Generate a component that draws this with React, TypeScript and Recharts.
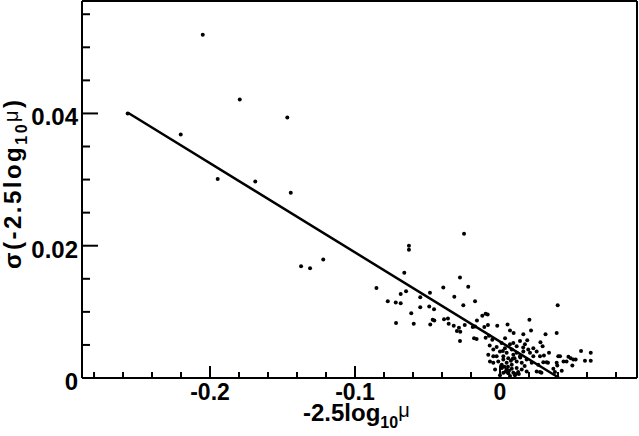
import { ScatterChart, Scatter, XAxis, YAxis, ReferenceLine } from "recharts";

// offsets (-2.5 log10 mu) and their scatter sigma
const magOffset = [
  -0.2568, -0.2050, -0.2202, -0.1795, -0.1467, -0.1947, -0.1688, -0.1443, -0.1372, -0.1310, -0.1219,
  -0.0248, -0.0628, -0.0628, -0.0660, -0.0276, -0.0852, -0.0391, -0.0219, -0.0648, -0.0685,
  -0.0483, -0.0550, -0.0315, -0.0774, -0.0719, -0.0685, -0.0172, -0.0550, -0.0488, -0.0455,
  -0.0253, -0.0612, -0.0085, -0.0122, -0.0099, -0.0464, -0.0453, -0.0386, -0.0359, -0.0159,
  -0.0717, -0.0595, -0.0481, -0.0354, -0.0319, -0.0283, -0.0297, -0.0274, -0.0243, -0.0188,
  -0.0108, -0.0083, -0.0276, -0.0179, -0.0161, -0.0172, -0.0019, 0.0052, 0.0203, 0.0398,
  0.0391, 0.0314, 0.0214, 0.0161, 0.0069, 0.0094, -0.0053, -0.0071, -0.0076, -0.0099,
  0.0559, 0.0626, 0.0586, 0.0626, 0.0488, 0.0506, 0.0472, 0.0522, 0.0499, 0.0459,
  0.0438, 0.0402, 0.0414, 0.0391, 0.0395, 0.0368, 0.0426, 0.0338, 0.0331, 0.0322,
  0.0279, 0.0294, 0.0303, 0.0286, 0.0379, 0.0253, 0.0276,
  -0.0081, -0.0046, -0.0023, 0.0000, 0.0011, 0.0034, 0.0069, 0.0092, 0.0115, 0.0138,
  0.0172, 0.0188, 0.0230, 0.0253, 0.0207, 0.0161, 0.0138, 0.0092, 0.0057, 0.0023,
  -0.0012, -0.0046, 0.0012, 0.0046, 0.0081, 0.0115, 0.0150, 0.0184, 0.0219, 0.0012,
  0.0046, 0.0081, 0.0115, 0.0023, 0.0057, 0.0092, 0.0000, 0.0069, 0.0103, -0.0034,
  -0.0023, -0.0069, 0.0195, 0.0276, 0.0299, 0.0264, 0.0150, 0.0184, 0.0046, 0.0081,
  0.0115, 0.0023, 0.0230, -0.0046, 0.0030, 0.0062, 0.0100, 0.0130, 0.0170, 0.0035,
  0.0008, 0.0040, 0.0075, 0.0108, 0.0140, 0.0020, 0.0055, 0.0088, 0.0125, 0.0160,
];
const magSigma = [
  0.0400, 0.0519, 0.0368, 0.0421, 0.0394, 0.0301, 0.0297, 0.0280, 0.0169, 0.0166, 0.0179,
  0.0218, 0.0200, 0.0194, 0.0159, 0.0152, 0.0136, 0.0137, 0.0138, 0.0131, 0.0127,
  0.0129, 0.0122, 0.0123, 0.0116, 0.0114, 0.0113, 0.0116, 0.0107, 0.0108, 0.0104,
  0.0110, 0.0098, 0.0096, 0.0094, 0.0097, 0.0088, 0.0087, 0.0089, 0.0090, 0.0087,
  0.0083, 0.0082, 0.0081, 0.0082, 0.0079, 0.0076, 0.0071, 0.0070, 0.0080, 0.0077,
  0.0077, 0.0080, 0.0056, 0.0060, 0.0059, 0.0078, 0.0079, 0.0081, 0.0088, 0.0110,
  0.0068, 0.0066, 0.0072, 0.0066, 0.0072, 0.0068, 0.0058, 0.0049, 0.0064, 0.0061,
  0.0041, 0.0038, 0.0026, 0.0026, 0.0030, 0.0028, 0.0032, 0.0028, 0.0019, 0.0025,
  0.0025, 0.0033, 0.0033, 0.0023, 0.0019, 0.0014, 0.0011, 0.0038, 0.0023, 0.0024,
  0.0054, 0.0048, 0.0034, 0.0008, 0.0009, 0.0010, 0.0009,
  0.0035, 0.0043, 0.0047, 0.0040, 0.0053, 0.0045, 0.0051, 0.0053, 0.0048, 0.0056,
  0.0051, 0.0057, 0.0045, 0.0040, 0.0038, 0.0040, 0.0033, 0.0035, 0.0030, 0.0028,
  0.0025, 0.0023, 0.0020, 0.0023, 0.0020, 0.0025, 0.0023, 0.0028, 0.0023, 0.0015,
  0.0013, 0.0014, 0.0015, 0.0008, 0.0007, 0.0008, 0.0004, 0.0003, 0.0004, 0.0013,
  0.0033, 0.0025, 0.0043, 0.0033, 0.0024, 0.0020, 0.0013, 0.0010, 0.0038, 0.0043,
  0.0038, 0.0033, 0.0033, 0.0033, 0.0017, 0.0011, 0.0030, 0.0006, 0.0018, 0.0060,
  0.0018, 0.0010, 0.0026, 0.0006, 0.0031, 0.0041, 0.0017, 0.0029, 0.0009, 0.0046,
];

// linear fit drawn over the points
const fitX = [-0.2566, 0.0409];
const fitY = [0.0401, 0.0];

const xTicks = [-0.28, -0.26, -0.24, -0.22, -0.2, -0.18, -0.16, -0.14, -0.12, -0.1,
  -0.08, -0.06, -0.04, -0.02, 0, 0.02, 0.04, 0.06, 0.08];
const xMajor = [-0.2, -0.1, 0];
const xLabels = ["-0.2", "-0.1", "0"];

const yTicks = [0, 0.005, 0.01, 0.015, 0.02, 0.025, 0.03, 0.035, 0.04, 0.045, 0.05, 0.055];
const yMajor = [0, 0.02, 0.04];
const yLabels = ["0", "0.02", "0.04"];

const points = magOffset.map((x, i) => ({ x, y: magSigma[i] }));

const FONT = "'Liberation Sans', Arial, Helvetica, sans-serif";
const X_DOMAIN: [number, number] = [-0.2883, 0.0945];
const Y_DOMAIN: [number, number] = [0, 0.057];

const majorIndex = (list: number[], v: number) =>
  list.findIndex((m) => Math.abs(m - v) < 1e-9);

const XTick = ({ x, y, payload }: any) => {
  const i = majorIndex(xMajor, payload.value);
  return (
    <g>
      <line x1={x} y1={y} x2={x} y2={y - (i >= 0 ? 12 : 6)} stroke="#000" strokeWidth={2} />
      {i >= 0 && (
        <text x={x} y={y + 22} textAnchor="middle" fontFamily={FONT} fontWeight="bold" fontSize={23} fill="#000">
          {xLabels[i]}
        </text>
      )}
    </g>
  );
};

const YTick = ({ x, y, payload }: any) => {
  const i = majorIndex(yMajor, payload.value);
  return (
    <g>
      <line x1={x} y1={y} x2={x + (i >= 0 ? 16 : 8)} y2={y} stroke="#000" strokeWidth={2} />
      {i >= 0 && (
        <text x={x - 4} y={y + 12} textAnchor="end" fontFamily={FONT} fontWeight="bold" fontSize={24} fill="#000">
          {yLabels[i]}
        </text>
      )}
    </g>
  );
};

const Dot = ({ cx, cy }: any) => <circle cx={cx} cy={cy} r={2} fill="#000" />;

export default function App() {
  return (
    <div style={{ position: "absolute", left: 0, top: 0, width: 639, height: 436, background: "#fff" }}>
      <ScatterChart width={639} height={436} margin={{ top: 0, right: 1, bottom: 57, left: 81 }}>
        <XAxis
          type="number" dataKey="x" domain={X_DOMAIN} allowDataOverflow
          ticks={xTicks} interval={0} tick={<XTick />} tickLine={false} tickSize={0} tickMargin={0}
          axisLine={{ stroke: "#000", strokeWidth: 2 }} height={1}
        />
        <YAxis
          type="number" dataKey="y" domain={Y_DOMAIN} allowDataOverflow
          ticks={yTicks} interval={0} tick={<YTick />} tickLine={false} tickSize={0} tickMargin={0}
          axisLine={{ stroke: "#000", strokeWidth: 2 }} width={1}
        />
        <XAxis xAxisId="top" orientation="top" type="number" domain={X_DOMAIN} allowDataOverflow
          tick={false} tickLine={false} axisLine={{ stroke: "#000", strokeWidth: 2 }} height={1} />
        <YAxis yAxisId="right" orientation="right" type="number" domain={Y_DOMAIN} allowDataOverflow
          tick={false} tickLine={false} axisLine={{ stroke: "#000", strokeWidth: 2 }} width={1} />
        <Scatter data={points} shape={<Dot />} isAnimationActive={false} />
        <ReferenceLine
          segment={[{ x: fitX[0], y: fitY[0] }, { x: fitX[1], y: fitY[1] }]}
          stroke="#000" strokeWidth={2.5} ifOverflow="visible"
        />
      </ScatterChart>
      <svg width={639} height={436} style={{ position: "absolute", left: 0, top: 0, pointerEvents: "none" }}>
        <text x={303} y={421} fontFamily={FONT} fontWeight="bold" fontSize={24} fill="#000">
          -2.5log
          <tspan fontSize={16} dy={7}>10</tspan>
          <tspan fontWeight="normal" fontSize={20} dy={-11}>μ</tspan>
        </text>
        <text x={21} y={269} transform="rotate(-90 21 269)" fontFamily={FONT} fontWeight="bold"
          fontSize={24} letterSpacing={2.5} fill="#000">
          σ(-2.5log
          <tspan fontSize={16} dy={6}>10</tspan>
          <tspan fontWeight="normal" fontSize={20} dy={-9}>μ</tspan>
          <tspan dy={3}>)</tspan>
        </text>
      </svg>
    </div>
  );
}
